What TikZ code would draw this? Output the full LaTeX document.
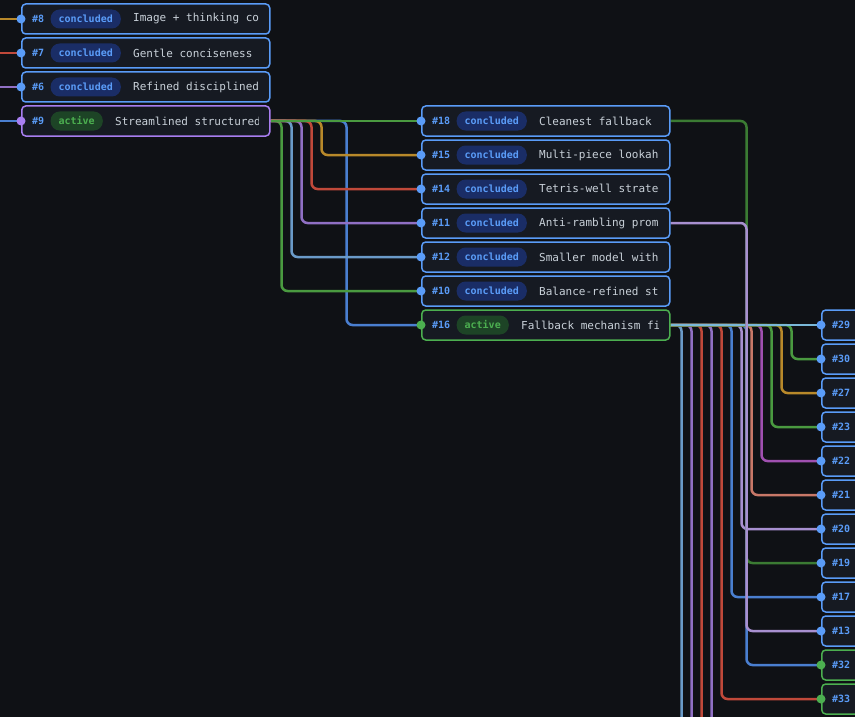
\documentclass[tikz,border=0pt]{standalone}
\usepackage{fontspec}
\setmonofont{DejaVu Sans Mono}
\usetikzlibrary{backgrounds}
\definecolor{bg}{HTML}{0F1115}
\definecolor{cardbg}{HTML}{161A22}
\definecolor{cblue}{HTML}{5A9CF8}
\definecolor{cgreen}{HTML}{4CAF50}
\definecolor{cpurp}{HTML}{A87EF0}
\definecolor{pillb}{HTML}{1A2D66}
\definecolor{pillg}{HTML}{1D4426}
\definecolor{titlec}{HTML}{C9D1D9}
\definecolor{egold}{HTML}{B8892A}
\definecolor{ered}{HTML}{C0493A}
\definecolor{epurp}{HTML}{9070C4}
\definecolor{eblue}{HTML}{4A7FD0}
\definecolor{egreen}{HTML}{4A9A40}
\definecolor{esteel}{HTML}{6A9AC8}
\definecolor{elav}{HTML}{A890D0}
\definecolor{esalm}{HTML}{C87868}
\definecolor{emag}{HTML}{A050B0}
\definecolor{elight}{HTML}{7AB8D8}
\tikzset{
  card/.style={rectangle,rounded corners=4pt,fill=cardbg,line width=1.5pt,minimum width=248pt,minimum height=30pt,inner sep=0pt},
  num/.style={text=cblue,font=\ttfamily\bfseries\fontsize{10}{11}\selectfont,inner sep=0pt},
  pill/.style={rounded corners=9pt,minimum height=19pt,inner xsep=8pt,inner ysep=0pt,font=\ttfamily\bfseries\fontsize{10}{11}\selectfont},
  pill-concluded/.style={pill,fill=pillb,text=cblue},
  pill-active/.style={pill,fill=pillg,text=cgreen},
  title/.style={text=titlec,font=\ttfamily\fontsize{11}{12}\selectfont,inner sep=0pt},
  edge/.style={line width=2.5pt,rounded corners=6pt},
}
\newcommand\card[7]{%
  \node[card,draw=#7,anchor=west] (#1) at (#2,#3) {};
  \fill[#7] (#1.west) circle (4.5);
  \node[num,anchor=west] (#1n) at ([xshift=11]#1.west) {\##4};
  \node[pill-#5,anchor=west] (#1p) at ([xshift=6]#1n.east) {#5};
  \begin{scope}
    \clip ([xshift=2]#1.south west) rectangle ([xshift=-12]#1.north east);
    \node[title,anchor=west] at ([xshift=12]#1p.east) {#6};
  \end{scope}}
\newcommand\rcard[4]{%
  \node[card,draw=#3,anchor=west] (#1) at (821,#2) {};
  \fill[#3] (#1.west) circle (4.5);
  \node[num,anchor=west] at ([xshift=11]#1.west) {\##4};}
\begin{document}
\begin{tikzpicture}[x=1pt,y=-1pt]
\useasboundingbox (0,0) rectangle (855,717);
\clip (0,0) rectangle (855,717);
% left column
\card{n8}{21}{19}{8}{concluded}{Image + thinking combined}{cblue}
\card{n7}{21}{53}{7}{concluded}{Gentle conciseness}{cblue}
\card{n6}{21}{87}{6}{concluded}{Refined disciplined}{cblue}
\card{n9}{21}{121}{9}{active}{Streamlined structured}{cpurp}
% middle column
\card{n18}{421}{121}{18}{concluded}{Cleanest fallback}{cblue}
\card{n15}{421}{155}{15}{concluded}{Multi-piece lookahead}{cblue}
\card{n14}{421}{189}{14}{concluded}{Tetris-well strategy}{cblue}
\card{n11}{421}{223}{11}{concluded}{Anti-rambling prompt}{cblue}
\card{n12}{421}{257}{12}{concluded}{Smaller model with}{cblue}
\card{n10}{421}{291}{10}{concluded}{Balance-refined st}{cblue}
\card{n16}{421}{325}{16}{active}{Fallback mechanism fi}{cgreen}
% right column
\rcard{n29}{325}{cblue}{29}
\rcard{n30}{359}{cblue}{30}
\rcard{n27}{393}{cblue}{27}
\rcard{n23}{427}{cblue}{23}
\rcard{n22}{461}{cblue}{22}
\rcard{n21}{495}{cblue}{21}
\rcard{n20}{529}{cblue}{20}
\rcard{n19}{563}{cblue}{19}
\rcard{n17}{597}{cblue}{17}
\rcard{n13}{631}{cblue}{13}
\rcard{n32}{665}{cgreen}{32}
\rcard{n33}{699}{cgreen}{33}
\coordinate (i8) at (0,19);
\coordinate (i7) at (0,53);
\coordinate (i6) at (0,87);
\coordinate (i9) at (0,121);
\coordinate (o1) at (680,740);
\coordinate (o2) at (690,740);
\coordinate (o3) at (700,740);
\coordinate (o4) at (710,740);
\begin{scope}[on background layer]
\fill[bg] (0,0) rectangle (855,717);
\draw[edge,egold] (i8) -- (n8.west);
\draw[edge,ered] (i7) -- (n7.west);
\draw[edge,epurp] (i6) -- (n6.west);
\draw[edge,eblue] (i9) -- (n9.west);
% from 9
\draw[edge,eblue] (n9.east) -- ++(76,0) |- (n16.west);
\draw[edge,egreen] (n9.east) -- ++(11,0) |- (n10.west);
\draw[edge,esteel] (n9.east) -- ++(21,0) |- (n12.west);
\draw[edge,epurp] (n9.east) -- ++(31,0) |- (n11.west);
\draw[edge,ered] (n9.east) -- ++(41,0) |- (n14.west);
\draw[edge,egold] (n9.east) -- ++(51,0) |- (n15.west);
\draw[edge,egreen] (n9.east) -- (n18.west);
% from 16
\draw[edge,esteel] (n16.east) -- ++(11,0) |- (o1);
\draw[edge,epurp] (n16.east) -- ++(21,0) |- (o2);
\draw[edge,ered] (n16.east) -- ++(31,0) |- (o3);
\draw[edge,epurp] (n16.east) -- ++(41,0) |- (o4);
\draw[edge,ered] (n16.east) -- ++(51,0) |- (n33.west);
\draw[edge,eblue] (n16.east) -- ++(61,0) |- (n17.west);
\draw[edge,elav] (n16.east) -- ++(71,0) |- (n20.west);
\draw[edge,eblue] (n16.east) -- ++(76,0) |- (n32.west);
\draw[edge,esalm] (n16.east) -- ++(81,0) |- (n21.west);
\draw[edge,emag] (n16.east) -- ++(91,0) |- (n22.west);
\draw[edge,egreen] (n16.east) -- ++(101,0) |- (n23.west);
\draw[edge,egold] (n16.east) -- ++(111,0) |- (n27.west);
\draw[edge,egreen] (n16.east) -- ++(121,0) |- (n30.west);
\draw[edge,elight] (n16.east) -- (n29.west);
% from 18 and 11
\draw[edge,egreen!80!black] (n18.east) -- ++(76,0) |- (n19.west);
\draw[edge,elav] (n11.east) -- ++(76,0) |- (n13.west);
\end{scope}
\end{tikzpicture}
\end{document}
